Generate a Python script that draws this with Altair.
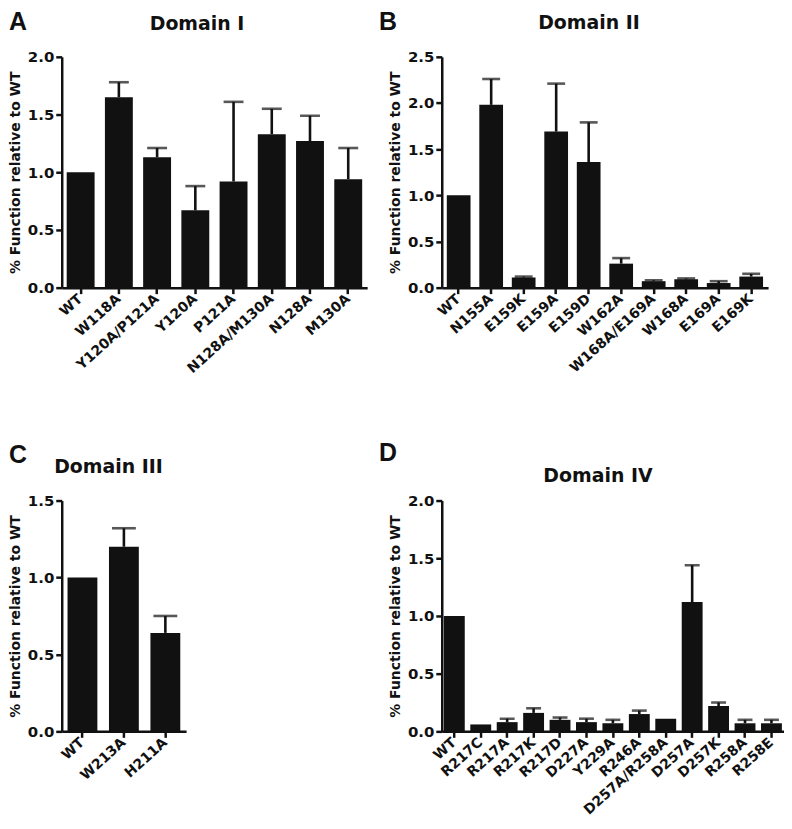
import altair as alt
import pandas as pd

# ---------------- data ----------------
cats_A = ["WT", "W118A", "Y120A/P121A", "Y120A", "P121A", "N128A/M130A", "N128A", "M130A"]
vals_A = [1.00, 1.65, 1.13, 0.67, 0.92, 1.33, 1.27, 0.94]
upper_A = [1.00, 1.78, 1.21, 0.88, 1.61, 1.55, 1.49, 1.21]

cats_B = ["WT", "N155A", "E159K", "E159A", "E159D", "W162A", "W168A/E169A", "W168A", "E169A", "E169K"]
vals_B = [1.00, 1.98, 0.11, 1.69, 1.36, 0.26, 0.07, 0.09, 0.05, 0.12]
upper_B = [1.00, 2.26, 0.12, 2.21, 1.79, 0.32, 0.08, 0.10, 0.07, 0.15]

cats_C = ["WT", "W213A", "H211A"]
vals_C = [1.00, 1.20, 0.64]
upper_C = [1.00, 1.32, 0.75]

cats_D = ["WT", "R217C", "R217A", "R217K", "R217D", "D227A", "Y229A", "R246A",
          "D257A/R258A", "D257A", "D257K", "R258A", "R258E"]
vals_D = [1.00, 0.06, 0.08, 0.16, 0.10, 0.08, 0.07, 0.15, 0.11, 1.12, 0.22, 0.07, 0.07]
upper_D = [1.00, 0.06, 0.11, 0.20, 0.12, 0.11, 0.10, 0.18, 0.11, 1.44, 0.25, 0.10, 0.10]

Y_TITLE = "% Function relative to WT"

FONT = "DejaVu Sans"
INK = "#111111"


def panel(cats, vals, upper, letter, title, ymax, w, h, pi, po, cap,
          letter_xy, title_xy):
    df = pd.DataFrame({"mut": cats, "val": vals, "up": upper})
    ticks = [round(i * 0.5, 1) for i in range(int(round(ymax / 0.5)) + 1)]
    xaxis = alt.Axis(title=None, labelAngle=318, labelFontSize=14,
                     labelPadding=3, labelAlign="right", labelBaseline="middle")
    yaxis = alt.Axis(title=Y_TITLE, values=ticks, format=".1f",
                     titleX=-46, titleY=h / 2, titleAngle=270,
                     titleAlign="center", titleBaseline="middle",
                     labelFontSize=15, labelPadding=2)
    xs = alt.Scale(paddingInner=pi, paddingOuter=po)
    ys = alt.Scale(domain=[0, ymax], nice=False, zero=True)
    base = alt.Chart(df)
    bars = base.mark_bar(color=INK).encode(
        x=alt.X("mut:N", sort=cats, scale=xs, axis=xaxis),
        y=alt.Y("val:Q", scale=ys, axis=yaxis),
    )
    err = base.transform_filter("datum.up > datum.val").mark_rule(
        color=INK, strokeWidth=2.6
    ).encode(
        x=alt.X("mut:N", sort=cats),
        y=alt.Y("val:Q"),
        y2="up:Q",
    )
    caps = base.transform_filter("datum.up > datum.val").mark_tick(
        color=INK, thickness=2.6, size=cap
    ).encode(
        x=alt.X("mut:N", sort=cats),
        y=alt.Y("up:Q"),
    )
    let = alt.Chart(pd.DataFrame({"t": [letter]})).mark_text(
        font="Liberation Sans", fontWeight="bold", fontSize=25,
        align="left", baseline="top", color=INK
    ).encode(text="t:N", x=alt.value(letter_xy[0]), y=alt.value(letter_xy[1]))
    ttl = alt.Chart(pd.DataFrame({"t": [title]})).mark_text(
        font=FONT, fontWeight="bold", fontSize=19,
        align="center", baseline="alphabetic", color=INK
    ).encode(text="t:N", x=alt.value(title_xy[0]), y=alt.value(title_xy[1]))
    return alt.layer(bars, err, caps, let, ttl).properties(width=w, height=h)


pA = panel(cats_A, vals_A, upper_A, "A", "Domain I", 2.0, 307, 232, 0.27, 0.13, 20,
           (-53, -47), (136, -27))
pB = panel(cats_B, vals_B, upper_B, "B", "Domain II", 2.5, 328, 232, 0.27, 0.155, 18,
           (-63, -47), (148, -28))
pC = panel(cats_C, vals_C, upper_C, "C", "Domain III", 1.5, 125, 232, 0.28, 0.14, 24,
           (-53, -58), (47, -28))
pD = panel(cats_D, vals_D, upper_D, "D", "Domain IV", 2.0, 344, 232, 0.21, 0.08, 15,
           (-63, -60), (157, -19))

chart = alt.concat(
    pA, pB, pC, pD, columns=2, bounds="flush", align="each",
    spacing={"row": 214, "column": 75}
).properties(
    padding=0, background="white"
).configure_view(
    stroke=None
).configure_axis(
    grid=False,
    domainColor=INK, domainWidth=2.5,
    tickColor=INK, tickWidth=2.5, tickSize=6,
    labelFont=FONT, labelFontWeight="bold", labelColor=INK,
    titleFont=FONT, titleFontWeight="bold", titleFontSize=14, titleColor=INK,
)

chart.save("out.html", embed_options={"renderer": "svg", "actions": False})
